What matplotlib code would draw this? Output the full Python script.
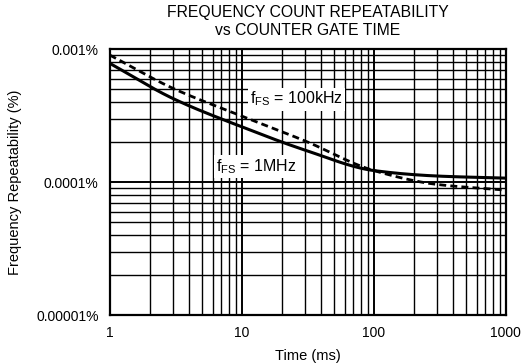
import numpy as np
import matplotlib.pyplot as plt
from matplotlib.ticker import FixedLocator, NullFormatter

plt.rcParams['font.family'] = ['Liberation Sans', 'DejaVu Sans']

# gate time (ms) and repeatability (%)
t_ms = [1, 3, 10, 30, 100, 300, 1000]
rep_1mhz = [7.8e-4, 4.25e-4, 2.6e-4, 1.74e-4, 1.22e-4, 1.11e-4, 1.07e-4]
rep_100khz = [9.0e-4, 5.07e-4, 3.13e-4, 2.04e-4, 1.22e-4, 9.6e-5, 8.7e-5]

x_ticks = [1, 10, 100, 1000]
x_labels = ["1", "10", "100", "1000"]
y_ticks = [1e-5, 1e-4, 1e-3]
y_labels = ["0.00001%", "0.0001%", "0.001%"]


# monotone cubic (Fritsch-Carlson) in log-log space, only used to draw a smooth line
def pchip(x, y, xs):
    x = np.asarray(x, float)
    y = np.asarray(y, float)
    h = np.diff(x)
    d = np.diff(y) / h
    m = np.zeros_like(y)
    m[0], m[-1] = d[0], d[-1]
    for i in range(1, len(x) - 1):
        if d[i - 1] * d[i] > 0:
            w1 = 2 * h[i] + h[i - 1]
            w2 = h[i] + 2 * h[i - 1]
            m[i] = (w1 + w2) / (w1 / d[i - 1] + w2 / d[i])
    idx = np.clip(np.searchsorted(x, xs) - 1, 0, len(x) - 2)
    t = (xs - x[idx]) / h[idx]
    h00 = 2 * t**3 - 3 * t**2 + 1
    h10 = t**3 - 2 * t**2 + t
    h01 = -2 * t**3 + 3 * t**2
    h11 = t**3 - t**2
    return h00 * y[idx] + h10 * h[idx] * m[idx] + h01 * y[idx + 1] + h11 * h[idx] * m[idx + 1]


fig = plt.figure(figsize=(5.28, 3.63), dpi=100)
ax = fig.add_axes([0.208, 0.132, 0.75, 0.733])

lx = np.log10(t_ms)
xs = np.linspace(0, 3, 300)
ax.plot(10**xs, 10**pchip(lx, np.log10(rep_1mhz), xs), color="black", lw=2.2, zorder=3)
ax.plot(10**xs, 10**pchip(lx, np.log10(rep_100khz), xs), color="black", lw=2.0,
        linestyle=(0, (2.5, 1.5)), zorder=3)

ax.set_xscale("log")
ax.set_yscale("log")
ax.set_xlim(1, 1000)
ax.set_ylim(1e-5, 1e-3)

ax.set_xticks(x_ticks)
ax.set_xticklabels(x_labels)
ax.set_yticks(y_ticks)
ax.set_yticklabels(y_labels)
minor_x = [m * d for d in [1, 10, 100] for m in range(2, 10)]
minor_y = [m * d for d in [1e-5, 1e-4] for m in range(2, 10)]
ax.xaxis.set_minor_locator(FixedLocator(minor_x))
ax.yaxis.set_minor_locator(FixedLocator(minor_y))
ax.xaxis.set_minor_formatter(NullFormatter())
ax.yaxis.set_minor_formatter(NullFormatter())
ax.tick_params(which="both", length=0, labelsize=10, pad=8)

ax.grid(which="major", color="black", lw=1.4)
ax.grid(which="minor", color="black", lw=1.0)
for s in ax.spines.values():
    s.set_linewidth(1.6)

box = dict(facecolor="white", edgecolor="none", pad=1.5)
ax.text(26, 4.2e-4, r"f$_{\mathregular{FS}}$ = 100kHz", fontsize=11.5,
        ha="center", va="center", bbox=box, zorder=4)
ax.text(12.8, 1.3e-4, r"f$_{\mathregular{FS}}$ = 1MHz", fontsize=11.5,
        ha="center", va="center", bbox=box, zorder=4)

ax.set_xlabel("Time (ms)", fontsize=10.5, labelpad=6)
ax.set_ylabel("Frequency Repeatability (%)", fontsize=10.5, labelpad=10)
fig.text(0.583, 0.965, "FREQUENCY COUNT REPEATABILITY", ha="center", va="center", fontsize=11.3)
fig.text(0.583, 0.915, "vs COUNTER GATE TIME", ha="center", va="center", fontsize=11.3)

fig.savefig("out.png", dpi=100)
